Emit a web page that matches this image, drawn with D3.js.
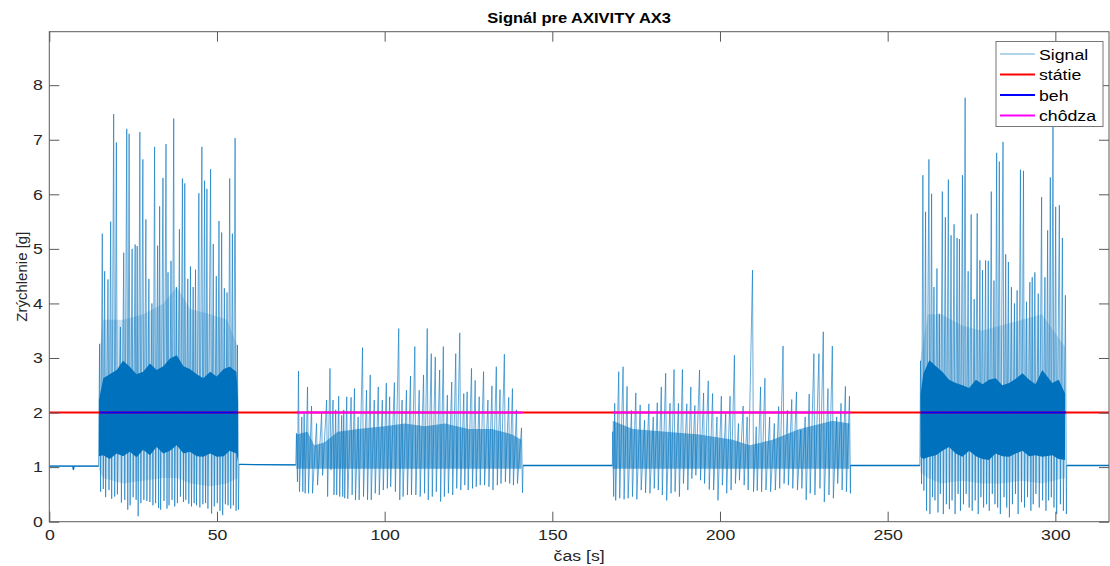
<!DOCTYPE html>
<html>
<head>
<meta charset="utf-8">
<script src="https://cdn.jsdelivr.net/npm/d3@7"></script>
<style>
  body { margin: 0; background: #fff; }
  svg { display: block; font-family: "Liberation Sans", Arial, sans-serif; }
</style>
</head>
<body>
<div id="chart"></div>
<script>
// ---------- DATA ----------
var titleText = "Signál pre AXIVITY AX3",
    xLabel = "čas [s]",
    yLabel = "Zrýchlenie [g]";

var xTicks = [0, 50, 100, 150, 200, 250, 300],
    yTicks = [0, 1, 2, 3, 4, 5, 6, 7, 8];

var legendNames = ["Signal", "státie", "beh", "chôdza"];

// quiet parts between activities: [time, level]
var rest0 = [[0, 1.02], [7.05, 1.02], [7.2, 0.95], [7.35, 1.02], [14.7, 1.02]],
    rest1 = [[56.6, 1.05], [73.5, 1.04]],
    rest2 = [[141.3, 1.03], [167.9, 1.03]],
    rest3 = [[238.9, 1.03], [259.6, 1.03]],
    rest4 = [[303.4, 1.03], [316, 1.03]];

// steps: [time, peak, trough]
var run1Steps = [
  [15.0,3.26,0.55],[15.8,5.28,0.60],[16.5,4.59,0.45],[17.5,4.44,0.58],[18.3,5.50,0.42],[19.2,7.47,0.46],
  [20.0,6.95,0.50],[21.2,3.57,0.35],[22.2,4.93,0.40],[23.1,7.20,0.22],[23.8,7.11,0.30],[24.7,5.00,0.45],
  [25.6,5.08,0.40],[26.2,5.05,0.10],[27.0,7.14,0.34],[27.9,6.64,0.40],[28.8,5.54,0.38],[29.7,4.45,0.36],
  [30.6,4.00,0.30],[31.4,6.87,0.34],[32.3,5.06,0.25],[32.9,5.78,0.22],[33.9,6.30,0.38],[34.8,6.92,0.24],
  [35.4,4.57,0.30],[36.3,4.78,0.40],[37.1,7.39,0.28],[37.9,4.30,0.34],[38.8,5.36,0.46],[39.7,6.29,0.36],
  [40.4,6.20,0.40],[41.3,4.45,0.33],[42.1,4.68,0.28],[42.9,4.30,0.34],[43.6,4.62,0.30],[44.6,6.02,0.26],
  [45.5,6.87,0.32],[46.3,6.25,0.34],[47.0,6.10,0.24],[48.1,6.46,0.15],[48.9,5.09,0.28],[49.8,4.50,0.34],
  [50.6,5.51,0.20],[51.4,5.30,0.12],[52.2,4.28,0.32],[53.0,4.20,0.30],[53.8,6.29,0.24],[54.6,5.28,0.30],
  [55.4,7.03,0.20],[56.1,3.24,0.22]
];
var walk1Steps = [
  [73.7,1.62,0.73],[74.3,2.76,0.55],[75.3,1.92,0.55],[76.0,1.98,0.52],[77.0,2.47,0.52],[78.2,2.12,0.52],
  [79.7,1.80,0.67],[81.2,1.98,0.85],[82.7,2.23,0.46],[83.7,2.81,0.95],[84.6,2.23,0.49],[85.4,2.05,0.49],
  [86.3,2.30,0.46],[87.2,1.95,0.46],[87.8,2.05,0.43],[88.7,2.29,0.42],[90.0,2.28,0.49],[91.0,2.44,0.40],
  [92.1,1.92,0.40],[93.4,3.19,0.46],[94.6,2.41,0.40],[95.7,2.69,0.40],[96.9,2.23,0.52],[98.1,2.47,0.49],
  [99.3,2.23,0.58],[100.5,2.54,0.61],[101.5,2.29,0.64],[102.9,2.55,0.55],[104.2,3.54,0.40],[105.2,2.23,0.46],
  [106.5,2.41,0.49],[107.7,2.67,0.49],[109.0,3.21,0.49],[110.3,2.41,0.46],[111.6,2.69,0.52],[112.7,3.54,0.40],
  [113.9,3.08,0.46],[115.1,3.02,0.55],[116.4,2.78,0.37],[117.5,3.21,0.46],[118.7,2.32,0.52],[120.0,2.56,0.49],
  [121.2,3.08,0.61],[122.4,3.46,0.58],[123.6,2.35,0.67],[124.6,2.38,0.58],[125.9,2.81,0.61],[127.0,2.59,0.64],
  [128.2,2.29,0.67],[129.5,2.75,0.67],[130.8,2.23,0.64],[132.0,2.49,0.58],[133.3,2.84,0.67],[134.4,2.42,0.70],
  [135.7,3.07,0.73],[137.0,2.28,0.70],[138.1,2.44,0.67],[139.3,2.05,0.70],[140.8,1.72,0.53]
];
var walk2Steps = [
  [168.0,1.65,0.46],[168.6,2.17,0.39],[169.8,2.75,0.43],[171.1,2.84,0.41],[172.3,2.48,0.43],[173.6,2.04,0.46],
  [174.9,2.36,0.41],[176.2,2.14,0.58],[177.5,1.86,0.53],[178.8,2.16,0.52],[180.1,1.92,0.61],[181.3,2.18,0.58],
  [182.5,2.47,0.49],[183.8,2.72,0.39],[185.1,2.17,0.52],[186.3,2.79,0.55],[187.6,2.17,0.46],[188.8,2.79,0.70],
  [190.1,2.16,0.58],[191.3,2.47,0.79],[192.5,2.13,0.85],[193.9,2.78,0.76],[195.1,2.36,0.70],[196.5,2.58,0.59],
  [197.8,2.35,0.58],[199.1,1.92,0.39],[200.4,2.30,0.67],[201.7,1.98,0.52],[203.0,2.30,0.58],[204.3,3.05,0.70],
  [205.5,1.80,0.76],[206.9,2.12,0.67],[208.1,1.92,0.58],[209.7,4.61,0.55],[210.8,1.74,0.57],[212.1,2.47,0.55],
  [213.4,2.63,0.58],[214.8,1.92,0.55],[216.2,1.80,0.58],[217.5,2.11,0.61],[218.8,3.22,0.70],[220.1,2.04,0.67],
  [221.4,2.24,0.61],[222.8,2.38,0.58],[224.1,1.68,0.61],[225.4,1.92,0.40],[226.6,2.34,0.52],[228.0,3.08,0.49],
  [229.5,3.08,0.61],[230.8,3.48,0.36],[232.2,2.44,0.49],[233.5,3.22,0.43],[234.8,1.92,0.70],[236.1,2.17,0.58],
  [237.4,2.48,0.55],[238.6,2.30,0.52]
];
var run2Steps = [
  [259.8,2.95,0.69],[260.5,6.35,0.57],[261.3,5.68,0.20],[262.3,6.64,0.14],[263.1,6.01,0.45],[263.8,4.30,0.39],
  [264.7,4.64,0.17],[265.4,3.81,0.51],[266.3,6.05,0.14],[267.2,5.58,0.32],[268.1,6.27,0.23],[268.9,5.25,0.39],
  [269.8,5.45,0.14],[270.7,5.20,0.51],[271.4,5.18,0.20],[272.3,6.35,0.32],[273.1,7.77,0.51],[274.0,4.59,0.26],
  [274.9,5.63,0.20],[275.8,4.08,0.39],[276.7,5.65,0.14],[277.5,4.79,0.45],[278.3,4.61,0.26],[279.2,4.79,0.32],
  [280.0,4.78,0.20],[280.9,6.05,0.51],[281.7,4.42,0.32],[282.5,6.76,0.26],[283.3,6.60,0.14],[284.4,6.96,0.45],
  [285.2,4.90,0.26],[286.0,4.76,0.08],[286.9,4.30,0.32],[287.8,4.00,0.51],[288.6,4.24,0.14],[289.6,6.45,0.36],
  [290.5,6.43,0.26],[291.4,4.03,0.45],[292.4,4.39,0.20],[293.1,4.48,0.32],[293.9,4.57,0.51],[294.9,4.18,0.26],
  [295.9,5.95,0.39],[296.9,4.48,0.20],[297.7,5.34,0.39],[298.5,6.31,0.45],[299.3,7.50,0.26],[300.1,5.77,0.14],
  [301.2,5.80,0.32],[302.1,5.20,0.20],[303.0,4.15,0.14]
];

// dense core of the signal: [time, low, high]
var run1Core = [[14.8,1.20,2.23],[16.1,1.22,2.63],[18.0,1.15,2.70],[20.1,1.25,2.78],[22.0,1.20,2.95],[24.0,1.28,2.84],
  [26.0,1.18,2.70],[28.0,1.32,2.75],[30.0,1.22,2.90],[32.0,1.37,2.78],[34.0,1.25,2.85],[36.0,1.30,2.99],[38.0,1.40,3.05],
  [40.0,1.25,2.85],[41.9,1.28,2.80],[44.0,1.20,2.70],[45.9,1.19,2.63],[48.0,1.25,2.75],[49.9,1.19,2.66],[52.0,1.20,2.80],
  [53.8,1.30,2.84],[55.8,1.25,2.75],[56.3,1.10,2.20]];
var run2Core = [[259.8,1.19,2.32],[260.6,1.15,2.70],[262.4,1.19,2.96],[264.4,1.22,2.85],[266.3,1.30,2.75],[268.3,1.37,2.60],
  [270.3,1.25,2.54],[272.3,1.19,2.50],[274.3,1.30,2.45],[276.3,1.20,2.60],[278.3,1.15,2.52],[280.2,1.13,2.60],[282.2,1.25,2.63],
  [284.2,1.20,2.50],[286.2,1.19,2.54],[288.2,1.25,2.62],[290.2,1.30,2.72],[292.2,1.20,2.60],[294.1,1.22,2.52],[296.1,1.19,2.78],
  [299.1,1.22,2.54],[301.0,1.15,2.60],[302.9,1.13,2.35]];
var walk1Core = [[73.7,0.97,1.60],[77,0.97,1.65],[79,0.97,1.40],[82,0.97,1.45],[86,0.97,1.65],[92,0.97,1.70],[100,0.97,1.75],
  [106,0.97,1.80],[112,0.97,1.75],[118,0.97,1.80],[125,0.97,1.70],[132,0.97,1.70],[138,0.97,1.60],[140.8,0.97,1.50]];
var walk2Core = [[168.0,0.97,1.85],[174.0,0.97,1.70],[183.9,0.97,1.65],[193.9,0.97,1.60],[203.8,0.97,1.50],[208.8,0.97,1.40],
  [215.7,0.97,1.50],[223.7,0.97,1.70],[233.6,0.97,1.85],[238.6,0.97,1.80]];

// lighter halo round the running core: [time, low, high]
var run1Halo = [[14.8,0.95,3.0],[16,0.80,3.7],[22,0.70,3.7],[28,0.75,3.8],[34,0.80,4.0],[38,0.80,4.3],[42,0.70,3.9],
  [48,0.65,3.8],[53,0.70,3.7],[56.2,0.80,3.2]];
var run2Halo = [[259.8,0.90,3.0],[262,0.80,3.8],[266,0.70,3.8],[272,0.75,3.6],[278,0.70,3.5],[284,0.70,3.6],[290,0.75,3.7],
  [296,0.70,3.8],[302.9,0.80,3.2]];

// class lines at 2 g: [start, end]
var statieRange = [0, 316],
    behRanges = [[14.9, 56.3], [259.8, 303.2]],
    chodzaRanges = [[73.8, 141.2], [168.0, 238.9]];
var classLevel = 2;

// ---------- LAYOUT ----------
var width = 1110, height = 566;
var margin = {top: 31.7, right: 1, bottom: 44.3, left: 49.3};
var stretch = 1.18;   // the picture's text is a bit wide
var sigColor = "#0072BD";

var svg = d3.select("#chart").append("svg")
  .attr("width", width)
  .attr("height", height);

var x = d3.scaleLinear().domain([0, 316]).range([margin.left, width - margin.right]);
var y = d3.scaleLinear().domain([0, 8.98]).range([height - margin.bottom, margin.top]);

svg.append("clipPath").attr("id", "plotClip")
  .append("rect")
  .attr("x", margin.left).attr("y", margin.top)
  .attr("width", width - margin.right - margin.left)
  .attr("height", height - margin.bottom - margin.top);

var plot = svg.append("g").attr("clip-path", "url(#plotClip)");

// halos and cores
var band = d3.area()
  .x(function(d){ return x(d[0]); })
  .y0(function(d){ return y(d[1]); })
  .y1(function(d){ return y(d[2]); });

[run1Halo, run2Halo].forEach(function(h){
  plot.append("path").attr("d", band(h)).attr("fill", sigColor).attr("fill-opacity", 0.2);
});
[walk1Core, walk2Core].forEach(function(c){
  plot.append("path").attr("d", band(c)).attr("fill", sigColor).attr("fill-opacity", 0.55);
});
[run1Core, run2Core].forEach(function(c){
  plot.append("path").attr("d", band(c)).attr("fill", sigColor);
});

// the signal line itself, in time order: rest, activity, rest, ...
function stepPts(steps){
  var pts = [];
  steps.forEach(function(s){
    pts.push([s[0], s[1]]);
    pts.push([s[0] + 0.3, s[2]]);
  });
  return pts;
}
var sigPts = [].concat(
  rest0, stepPts(run1Steps),
  rest1, stepPts(walk1Steps),
  rest2, stepPts(walk2Steps),
  rest3, stepPts(run2Steps),
  rest4
);

var line = d3.line()
  .x(function(d){ return x(d[0]); })
  .y(function(d){ return y(d[1]); });

plot.append("path")
  .attr("d", line(sigPts))
  .attr("fill", "none")
  .attr("stroke", sigColor)
  .attr("stroke-width", 0.6)
  .attr("stroke-linejoin", "round");

// quiet parts look a bit heavier (small noise)
[rest0, rest1, rest2, rest3, rest4].forEach(function(r){
  plot.append("path")
    .attr("d", line(r))
    .attr("fill", "none")
    .attr("stroke", sigColor)
    .attr("stroke-width", 1.3);
});

// class lines
function classLine(r, color){
  plot.append("line")
    .attr("x1", x(r[0])).attr("x2", x(r[1]))
    .attr("y1", y(classLevel)).attr("y2", y(classLevel))
    .attr("stroke", color).attr("stroke-width", 2);
}
classLine(statieRange, "#FF0000");
behRanges.forEach(function(r){ classLine(r, "#0000FF"); });
chodzaRanges.forEach(function(r){ classLine(r, "#FF00FF"); });

// ---------- AXES ----------
var axisColor = "#5a5a5a";
function styleAxis(g){
  g.select(".domain").remove();
  g.selectAll(".tick line").attr("stroke", axisColor);
  g.selectAll("text").attr("fill", "#262626").style("font-size", "15px")
    .attr("transform", "scale(" + stretch + ",1)");
}

svg.append("g")
  .attr("transform", "translate(0," + y(0) + ")")
  .call(d3.axisBottom(x).tickValues(xTicks).tickSizeInner(-10).tickSizeOuter(0).tickPadding(8))
  .call(styleAxis);
svg.append("g")
  .attr("transform", "translate(0," + margin.top + ")")
  .call(d3.axisTop(x).tickValues(xTicks).tickSizeInner(-10).tickSizeOuter(0).tickFormat(""))
  .call(styleAxis);
svg.append("g")
  .attr("transform", "translate(" + margin.left + ",0)")
  .call(d3.axisLeft(y).tickValues(yTicks).tickSizeInner(-10).tickSizeOuter(0).tickPadding(5.5))
  .call(styleAxis);
svg.append("g")
  .attr("transform", "translate(" + (width - margin.right) + ",0)")
  .call(d3.axisRight(y).tickValues(yTicks).tickSizeInner(-10).tickSizeOuter(0).tickFormat(""))
  .call(styleAxis);

// box
svg.append("rect")
  .attr("x", margin.left).attr("y", margin.top)
  .attr("width", width - margin.right - margin.left)
  .attr("height", y(0) - margin.top)
  .attr("fill", "none").attr("stroke", axisColor).attr("stroke-width", 1);

// ---------- TEXTS ----------
var midX = (margin.left + width - margin.right) / 2;
svg.append("text")
  .attr("transform", "translate(" + midX + ",23) scale(" + stretch + ",1)")
  .attr("text-anchor", "middle")
  .style("font-size", "14px").style("font-weight", "bold")
  .attr("fill", "#000")
  .text(titleText);

svg.append("text")
  .attr("transform", "translate(" + midX + ",561) scale(" + stretch + ",1)")
  .attr("text-anchor", "middle")
  .style("font-size", "15px")
  .attr("fill", "#262626")
  .text(xLabel);

svg.append("text")
  .attr("transform", "translate(27," + ((margin.top + y(0)) / 2) + ") rotate(-90)")
  .attr("text-anchor", "middle")
  .style("font-size", "15px")
  .attr("fill", "#262626")
  .text(yLabel);

// ---------- LEGEND ----------
var legendColors = [sigColor, "#FF0000", "#0000FF", "#FF00FF"],
    legendWidths = [0.6, 2, 2, 2];

var legend = svg.append("g").attr("transform", "translate(996,41.5)");
legend.append("rect")
  .attr("width", 107).attr("height", 85)
  .attr("fill", "#fff").attr("stroke", "#777").attr("stroke-width", 1);

legendNames.forEach(function(name, i){
  var ly = 12.5 + i * 20.5;
  legend.append("line")
    .attr("x1", 4).attr("x2", 39)
    .attr("y1", ly).attr("y2", ly)
    .attr("stroke", legendColors[i]).attr("stroke-width", legendWidths[i]);
  legend.append("text")
    .attr("transform", "translate(43," + (ly + 5.5) + ") scale(" + stretch + ",1)")
    .style("font-size", "15px")
    .attr("fill", "#000")
    .text(name);
});
</script>
</body>
</html>
